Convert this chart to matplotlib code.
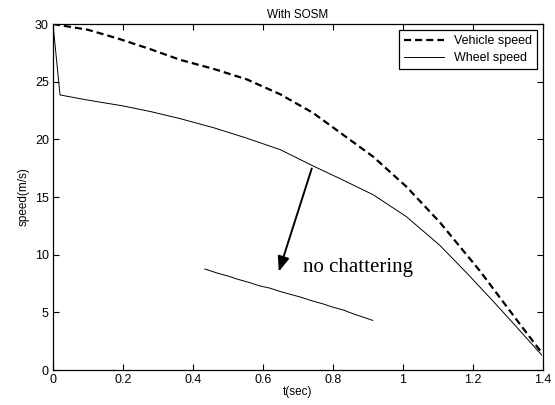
import numpy as np
import matplotlib.pyplot as plt

# data
t_vehicle = [0.0, 0.1, 0.19, 0.28, 0.363, 0.46, 0.554, 0.65, 0.743, 0.82, 0.915, 1.01, 1.106, 1.163, 1.22, 1.277, 1.334, 1.397]
v_vehicle = [30.0, 29.5, 28.7, 27.8, 26.9, 26.1, 25.2, 23.9, 22.3, 20.6, 18.5, 15.9, 12.8, 10.7, 8.6, 6.3, 4.0, 1.5]

t_wheel = [0.0, 0.02, 0.1, 0.2, 0.28, 0.363, 0.46, 0.554, 0.65, 0.743, 0.82, 0.915, 1.01, 1.106, 1.183, 1.257, 1.314, 1.397]
v_wheel = [30.0, 23.85, 23.4, 22.9, 22.4, 21.8, 21.0, 20.1, 19.1, 17.7, 16.6, 15.2, 13.3, 10.8, 8.4, 6.0, 4.1, 1.3]

# zoomed piece showing no chattering
t_zoom = [0.434, 0.47, 0.5, 0.53, 0.56, 0.59, 0.62, 0.65, 0.68, 0.71, 0.74, 0.77, 0.8, 0.83, 0.86, 0.89, 0.914]
v_zoom = [8.76, 8.4, 8.15, 7.85, 7.6, 7.3, 7.1, 6.8, 6.55, 6.3, 6.0, 5.75, 5.45, 5.2, 4.85, 4.55, 4.3]

arrow_start = (0.742, 17.7)
arrow_end = (0.643, 8.3)

plt.rcParams['font.family'] = ['Liberation Sans', 'DejaVu Sans']

fig = plt.figure(figsize=(5.55, 4.05), dpi=100)
ax = fig.add_axes([0.0955, 0.0864, 0.8825, 0.8543])

ax.plot(t_vehicle, v_vehicle, 'k--', lw=1.6, dashes=(3.2, 1.8), label='Vehicle speed')
ax.plot(t_wheel, v_wheel, 'k-', lw=0.7, label='Wheel speed')
ax.plot(t_zoom, v_zoom, 'k-', lw=0.7)

ax.annotate('', xy=arrow_end, xytext=arrow_start,
            arrowprops=dict(arrowstyle='-|>,head_length=0.9,head_width=0.35', color='k', lw=1.4))
ax.text(0.714, 8.9, 'no chattering', family=['Liberation Serif'], fontsize=15, va='center', ha='left')

ax.set_xlim(0, 1.4)
ax.set_ylim(0, 30)
ax.set_xticks(np.arange(0, 1.41, 0.2))
ax.set_xticklabels(['0', '0.2', '0.4', '0.6', '0.8', '1', '1.2', '1.4'])
ax.set_yticks([0, 5, 10, 15, 20, 25, 30])
ax.tick_params(direction='in', top=True, right=True, labelsize=9, length=4, width=0.8, pad=3)
for s in ax.spines.values():
    s.set_linewidth(0.9)

ax.set_title('With SOSM', fontsize=8.5, pad=4)
ax.set_xlabel('t(sec)', fontsize=8.5, labelpad=0)
ax.set_ylabel('speed(m/s)', fontsize=8.5, labelpad=4)

leg = ax.legend(loc='upper right', fontsize=9, fancybox=False, framealpha=1,
                edgecolor='k', borderaxespad=0.5, handlelength=3.2, labelspacing=0.4,
                borderpad=0.4)
leg.get_frame().set_linewidth(0.9)

fig.savefig('out.png', dpi=100)
